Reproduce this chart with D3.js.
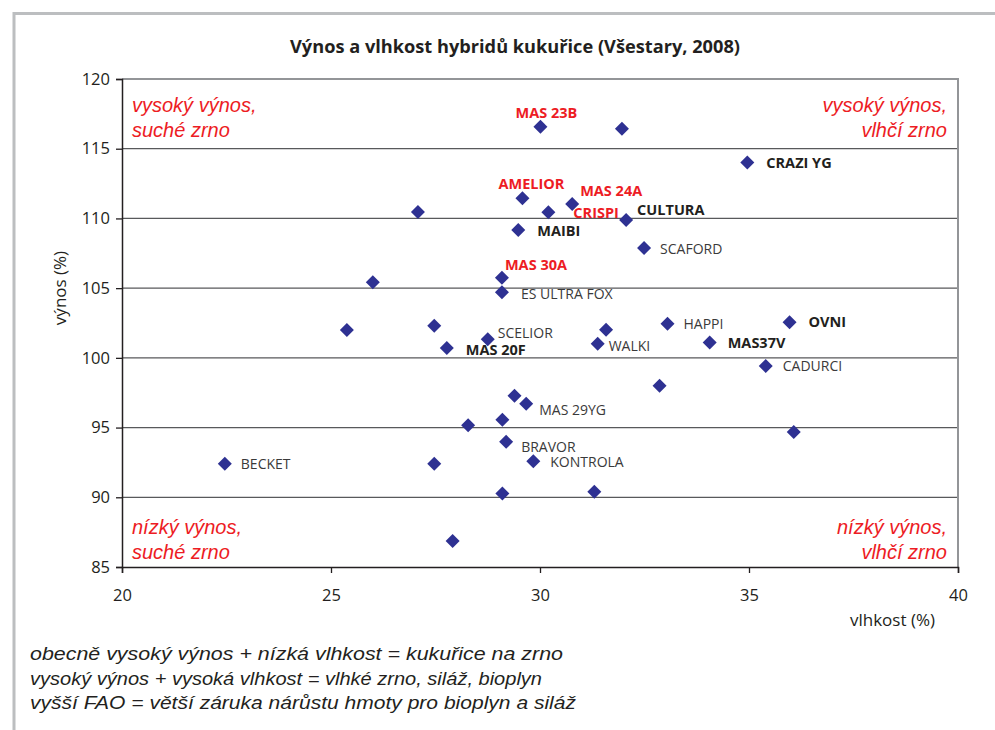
<!DOCTYPE html>
<html>
<head>
<meta charset="utf-8">
<script src="https://cdn.jsdelivr.net/npm/d3@7"></script>
<style>
  body { margin: 0; background: #fff; }
  svg { display: block; }
</style>
</head>
<body>
<div id="vis"></div>
<script>
// hybrids with names
const hybridNames = ["MAS 23B", "CRAZI YG", "AMELIOR", "MAS 24A", "CRISPI", "CULTURA", "MAIBI", "SCAFORD",
  "MAS 30A", "ES ULTRA FOX", "SCELIOR", "MAS 20F", "WALKI", "HAPPI", "OVNI", "MAS37V", "CADURCI",
  "MAS 29YG", "BRAVOR", "KONTROLA", "BECKET"];
const hybridMoisture = [30.01, 34.96, 29.58, 30.77, 30.2, 32.06, 29.48, 32.49,
  29.09, 29.09, 28.75, 27.77, 31.38, 33.05, 35.97, 34.06, 35.4,
  29.67, 29.19, 29.84, 22.46];
const hybridYield = [116.58, 114.02, 111.44, 111.03, 110.44, 109.89, 109.17, 107.88,
  105.75, 104.7, 101.33, 100.7, 101.01, 102.45, 102.55, 101.11, 99.41,
  96.71, 93.98, 92.58, 92.4];
// label kind: red = MAS (own hybrids), bold = highlighted, plain
const hybridKind = ["red", "bold", "red", "red", "red", "bold", "bold", "plain",
  "red", "plain", "plain", "bold", "plain", "plain", "bold", "bold", "plain",
  "plain", "plain", "plain", "plain"];

// unnamed points
const otherMoisture = [31.96, 27.08, 26.0, 25.38, 27.47, 31.58, 32.86, 29.39, 29.1, 28.28, 36.07, 27.47, 29.1, 31.3, 27.91];
const otherYield = [116.43, 110.46, 105.42, 102.0, 102.3, 102.02, 98.0, 97.28, 95.56, 95.16, 94.68, 92.4, 90.28, 90.4, 86.86];

const xTicks = [20, 25, 30, 35, 40];
const yTicks = [85, 90, 95, 100, 105, 110, 115, 120];

const quadrantLabels = [
  ["vysoký výnos,", "suché zrno"],
  ["vysoký výnos,", "vlhčí zrno"],
  ["nízký výnos,", "suché zrno"],
  ["nízký výnos,", "vlhčí zrno"]
];
const notes = [
  "obecně vysoký výnos + nízká vlhkost = kukuřice na zrno",
  "vysoký výnos + vysoká vlhkost = vlhké zrno, siláž, bioplyn",
  "vyšší FAO = větší záruka nárůstu hmoty pro bioplyn a siláž"
];

// label placement relative to the diamond (dx, dy, anchor)
const labelPlace = [
  [6, -9, "middle"], [19, 6, "start"], [9, -9, "middle"], [8, -8, "start"], [25, 6, "start"],
  [11, -5, "start"], [19, 6, "start"], [16, 6, "start"], [3, -8, "start"], [19, 7, "start"],
  [10, -1, "start"], [19, 7, "start"], [11, 7, "start"], [16, 5, "start"], [19, 5, "start"],
  [18, 6, "start"], [17, 5, "start"], [13, 11, "start"], [15, 10, "start"], [17, 6, "start"],
  [16, 5, "start"]
];

const width = 995, height = 730;
const plot = { left: 122, right: 958, top: 79, bottom: 567 };
const red = "#ed1c24", navy = "#2e3192";

const svg = d3.select("#vis").append("svg")
  .attr("width", width)
  .attr("height", height);

// outer frame (left + top)
svg.append("path")
  .attr("d", `M14,${height} V13.5 H${width}`)
  .attr("fill", "none")
  .attr("stroke", "#bcbec0")
  .attr("stroke-width", 3);

// title
svg.append("text")
  .attr("x", 515)
  .attr("y", 53)
  .attr("text-anchor", "middle")
  .attr("font-family", "Open Sans, sans-serif")
  .attr("font-weight", "bold")
  .attr("font-size", 18)
  .attr("textLength", 450)
  .attr("lengthAdjust", "spacingAndGlyphs")
  .attr("fill", "#231f20")
  .text("Výnos a vlhkost hybridů kukuřice (Všestary, 2008)");

const x = d3.scaleLinear().domain([20, 40]).range([plot.left, plot.right]);
const y = d3.scaleLinear().domain([85, 120]).range([plot.bottom, plot.top]);

// gridlines
svg.append("g")
  .selectAll("line")
  .data(yTicks.filter(d => d > 85))
  .enter()
  .append("line")
  .attr("x1", plot.left)
  .attr("x2", plot.right)
  .attr("y1", d => y(d))
  .attr("y2", d => y(d))
  .attr("stroke", d => d === 120 ? "#939598" : "#58595b")
  .attr("stroke-width", d => d === 120 ? 2 : 1.3);

// right border
svg.append("line")
  .attr("x1", plot.right).attr("x2", plot.right)
  .attr("y1", plot.top - 1).attr("y2", plot.bottom)
  .attr("stroke", "#939598")
  .attr("stroke-width", 2);

// axes
const xAxis = svg.append("g")
  .attr("transform", `translate(0,${plot.bottom})`)
  .call(d3.axisBottom(x).tickValues(xTicks).tickSize(6).tickPadding(16));
const yAxis = svg.append("g")
  .attr("transform", `translate(${plot.left},0)`)
  .call(d3.axisLeft(y).tickValues(yTicks).tickSize(6).tickPadding(6));

[xAxis, yAxis].forEach(ax => {
  ax.select(".domain").attr("stroke", "#231f20").attr("stroke-width", 1.5);
  ax.selectAll(".tick line").attr("stroke", "#231f20").attr("stroke-width", 1.3);
  ax.selectAll(".tick text")
    .attr("font-family", "Open Sans, sans-serif")
    .attr("font-size", 16.5)
    .attr("fill", "#231f20");
});

// axis titles
svg.append("text")
  .attr("transform", "translate(66,288) rotate(-90)")
  .attr("text-anchor", "middle")
  .attr("font-family", "Open Sans, sans-serif")
  .attr("font-size", 17)
  .attr("fill", "#231f20")
  .text("výnos (%)");

svg.append("text")
  .attr("x", 935)
  .attr("y", 626)
  .attr("text-anchor", "end")
  .attr("font-family", "Open Sans, sans-serif")
  .attr("font-size", 17)
  .attr("fill", "#231f20")
  .text("vlhkost (%)");

// quadrant captions
const qPos = [
  { x: 132, y: 112, anchor: "start" },
  { x: 947, y: 112, anchor: "end" },
  { x: 132, y: 534, anchor: "start" },
  { x: 947, y: 534, anchor: "end" }
];
quadrantLabels.forEach((lines, i) => {
  const t = svg.append("text")
    .attr("x", qPos[i].x)
    .attr("y", qPos[i].y)
    .attr("text-anchor", qPos[i].anchor)
    .attr("font-family", "Liberation Sans, Arial, sans-serif")
    .attr("font-style", "italic")
    .attr("font-size", 20)
    .attr("fill", red);
  lines.forEach((l, j) => {
    t.append("tspan").attr("x", qPos[i].x).attr("dy", j === 0 ? 0 : 24.5).text(l);
  });
});

// points: square marker turned 45 degrees
const marker = d3.symbol().type(d3.symbolSquare).size(98);

svg.append("g")
  .selectAll("path")
  .data(otherMoisture.map((m, i) => ({ m: m, v: otherYield[i] })))
  .enter()
  .append("path")
  .attr("d", marker)
  .attr("transform", d => `translate(${x(d.m)},${y(d.v)}) rotate(45)`)
  .attr("fill", navy);

const named = hybridNames.map((n, i) => ({
  name: n, m: hybridMoisture[i], v: hybridYield[i], kind: hybridKind[i], place: labelPlace[i]
}));

svg.append("g")
  .selectAll("path")
  .data(named)
  .enter()
  .append("path")
  .attr("d", marker)
  .attr("transform", d => `translate(${x(d.m)},${y(d.v)}) rotate(45)`)
  .attr("fill", navy);

svg.append("g")
  .selectAll("text")
  .data(named)
  .enter()
  .append("text")
  .attr("x", d => x(d.m) + d.place[0])
  .attr("y", d => y(d.v) + d.place[1])
  .attr("text-anchor", d => d.place[2])
  .attr("font-family", "Open Sans, sans-serif")
  .attr("font-size", d => d.kind === "plain" ? 14 : 14.5)
  .attr("font-weight", d => d.kind === "plain" ? "normal" : "bold")
  .attr("fill", d => d.kind === "red" ? red : (d.kind === "bold" ? "#231f20" : "#3a3a3a"))
  .text(d => d.name);

// notes below the chart
const noteWidths = [533, 512, 546];
svg.append("g")
  .selectAll("text")
  .data(notes)
  .enter()
  .append("text")
  .attr("x", 30)
  .attr("y", (d, i) => 660 + i * 24.5)
  .attr("font-family", "Liberation Sans, Arial, sans-serif")
  .attr("font-style", "italic")
  .attr("font-size", 18)
  .attr("textLength", (d, i) => noteWidths[i])
  .attr("lengthAdjust", "spacingAndGlyphs")
  .attr("fill", "#231f20")
  .text(d => d);
</script>
</body>
</html>
